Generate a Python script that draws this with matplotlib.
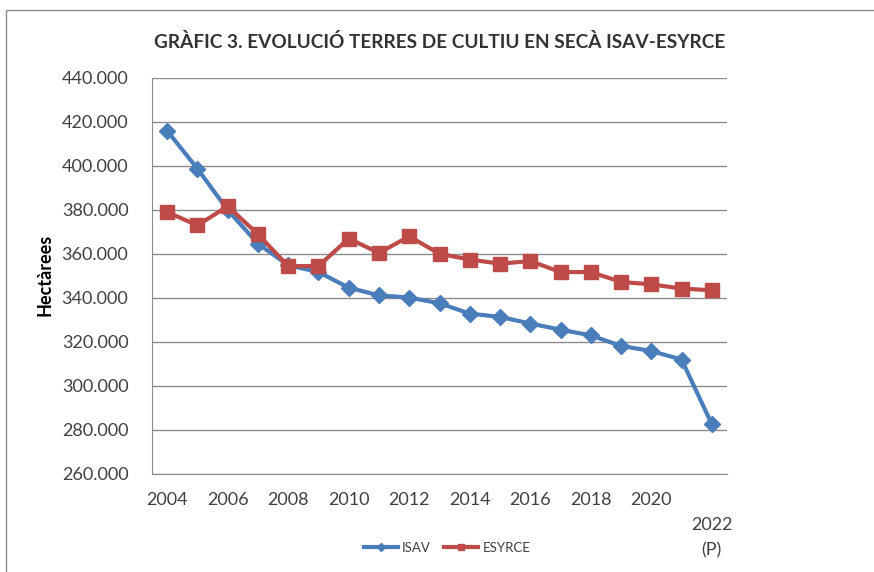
import numpy as np
import matplotlib
matplotlib.use("Agg")
import matplotlib.pyplot as plt
from matplotlib.patches import Rectangle
from matplotlib.ticker import FuncFormatter

plt.rcParams['font.family'] = ['Lato', 'DejaVu Sans']

# Data (hectares)
years = list(range(2004, 2023))
isav = [416000, 398800, 380000, 364700, 354900, 351800, 344700, 341200, 340200, 337600,
        332900, 331400, 328400, 325600, 323000, 318200, 315900, 312000, 282600]
esyrce = [379100, 373000, 381700, 369000, 354500, 354500, 367000, 360500, 368000, 360100,
          357500, 355600, 356800, 351800, 351800, 347300, 346200, 344300, 343500]
xlabels = ['2004', '2006', '2008', '2010', '2012', '2014', '2016', '2018', '2020', '\n2022\n(P)']

BLUE = '#4A7EBB'
RED = '#BE4B48'
GRID = '#8C8C8C'
TXT = '#404040'

fig = plt.figure(figsize=(8.74, 5.72), dpi=100)
ax = fig.add_axes([152 / 874, 1 - 474 / 572, 575 / 874, 396 / 572])

# outer chart frame (partly cut off in the reference)
fig.add_artist(Rectangle((6 / 874, -0.1), 1.2, 1.1 - 10 / 572, transform=fig.transFigure,
                         fill=False, edgecolor='#8C8C8C', linewidth=1.0))

x = np.arange(len(years))
ax.plot(x, isav, color=BLUE, linewidth=3, marker='D', markersize=8.5, label='ISAV', zorder=3)
ax.plot(x, esyrce, color=RED, linewidth=3, marker='s', markersize=10, label='ESYRCE', zorder=4)

ax.set_xlim(-0.5, len(years) - 0.5)
ax.set_ylim(260000, 440000)
ax.set_yticks(np.arange(260000, 440001, 20000))
ax.yaxis.set_major_formatter(FuncFormatter(lambda v, p: f"{int(v):,}".replace(',', '.')))
ax.set_xticks(x[::2])
ax.set_xticklabels(xlabels)
for lbl in ax.get_xticklabels():
    lbl.set_linespacing(1.7)

ax.grid(axis='y', color=GRID, linewidth=1)
ax.set_axisbelow(True)
for s in ['top', 'right']:
    ax.spines[s].set_visible(False)
ax.spines['left'].set_color(GRID)
ax.spines['bottom'].set_color(GRID)
ax.tick_params(axis='y', length=0, pad=17, labelsize=13, labelcolor=TXT)
ax.tick_params(axis='x', length=0, pad=13, labelsize=13, labelcolor=TXT)

fig.text(440 / 874, 1 - 42 / 572, 'GRÀFIC 3. EVOLUCIÓ TERRES DE CULTIU EN SECÀ ISAV-ESYRCE',
         ha='center', va='center', fontsize=13.7, fontweight='bold', color='#333333')
fig.text(45 / 874, 1 - 275 / 572, 'Hectàrees', rotation=90, ha='center', va='center',
         fontsize=13, fontweight='bold', color='black')

fig.legend(loc='center', bbox_to_anchor=(447 / 874, 1 - 548 / 572), ncol=2, frameon=False,
           fontsize=9.5, handlelength=2.6, columnspacing=1.0, handletextpad=0.3,
           markerscale=0.5, labelcolor=TXT)

fig.savefig('out.png', dpi=100)
